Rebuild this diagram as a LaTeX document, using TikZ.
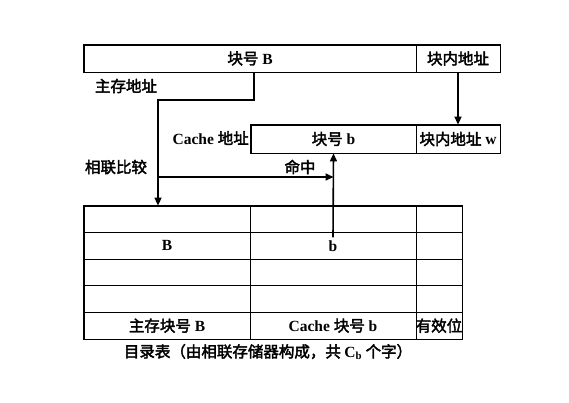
\documentclass[tikz,border=0pt]{standalone}
\usepackage{fontspec}
\setmainfont{Liberation Serif}
\newfontfamily\cjk[AutoFakeBold=2.5]{Noto Sans CJK SC}
\usetikzlibrary{arrows.meta}
\begin{document}
\begin{tikzpicture}[x=1pt,y=-1pt,
  txt/.style={font=\fontsize{15.5}{17}\selectfont\bfseries, inner sep=0pt},
  cell/.style={txt, draw, line width=0.8pt, minimum height=26.6pt, anchor=center},
  frame/.style={line width=1.6pt},
  conn/.style={line width=1.6pt},
  arr/.style={conn, -{Triangle[length=8pt,width=7pt]}}]
\useasboundingbox (0,0) rectangle (569,402);
% main memory address
\node[cell, minimum width=332pt, minimum height=27pt] (blk) at (250,58.5) {{\cjk 块号} B};
\node[cell, minimum width=84pt, minimum height=27pt] (off) at (458,58.5) {\cjk 块内地址};
\draw[frame] (blk.north west) rectangle (off.south east);
\node[txt] (mlab) at (126,86) {\cjk 主存地址};
% cache address
\node[cell, minimum width=165pt, minimum height=28pt] (cb) at (333.5,139) {{\cjk 块号} b};
\node[cell, minimum width=84pt, minimum height=28pt] (cw) at (458,139) {{\cjk 块内地址} w};
\draw[frame] (cb.north west) rectangle (cw.south east);
\node[txt, anchor=east] (clab) at (249,138) {Cache {\cjk 地址}};
\node[txt] (cmp) at (116,167) {\cjk 相联比较};
\node[txt] (hit) at (300,167) {\cjk 命中};
% table
\foreach \r/\y in {1/219.3,2/245.9,3/272.5,4/299.1,5/325.7}{
  \node[cell, minimum width=166pt] (t\r1) at (167,\y) {};
  \node[cell, minimum width=166pt] (t\r2) at (333,\y) {};
  \node[cell, minimum width=46pt] (t\r3) at (439,\y) {};
}
\draw[frame] (t11.north west) rectangle (t53.south east);
\node[txt] (tB) at (t21) {B};
\node[txt] (tb) at (t22) {b};
\node[txt] at (t51) {{\cjk 主存块号} B};
\node[txt] at (t52) {Cache {\cjk 块号} b};
\node[txt] at (t53) {\cjk 有效位};
\node[txt] (cap) at (268,352) {\cjk 目录表（由相联存储器构成，共 {\rmfamily C$_{\mathbf{b}}$} 个字）};
% connectors
\coordinate (s1) at (254,72);
\coordinate (k1) at (254,100);
\coordinate (k2) at (158,100);
\coordinate (j) at (158,177);
\draw[arr] (s1) -- (k1) -- (k2) -- (t11.north -| k2);
\draw[arr] (off.south) -- (cw.north);
\draw[arr] ([yshift=3pt]tb.north) -- (cb.south);
\draw[arr] (j) -- (j -| cb.south);
\end{tikzpicture}
\end{document}
